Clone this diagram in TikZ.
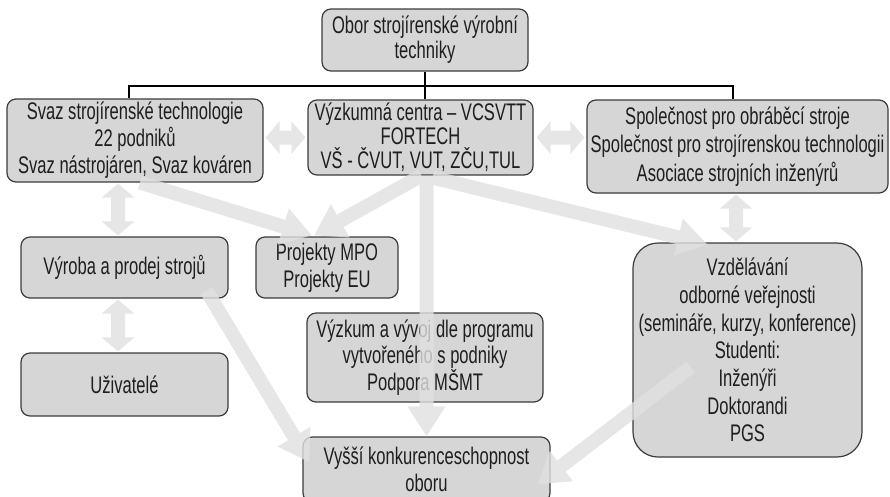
\documentclass[tikz,border=0pt]{standalone}
\usepackage{fontspec}
\setmainfont{Liberation Sans}[FakeStretch=0.69]
\usetikzlibrary{arrows.meta,calc}
\definecolor{boxfill}{RGB}{214,214,214}
\definecolor{boxline}{RGB}{60,60,60}
\definecolor{txt}{RGB}{30,30,30}
\definecolor{arr}{RGB}{224,224,224}
\begin{document}
\begin{tikzpicture}[x=1pt,y=-1pt,
  box/.style={draw=boxline, fill=boxfill, line width=1.2pt, rounded corners=9pt, align=center, text=txt, inner sep=0pt, font=\fontsize{24}{27}\selectfont},
  conn/.style={draw=black, line width=2pt},
  fat/.style={draw=arr, line width=14pt, -{Triangle[width=36pt,length=30pt]}},
  fatd/.style={draw=arr, line width=14pt, {Triangle[width=32pt,length=14pt]}-{Triangle[width=32pt,length=14pt]}},
]
\useasboundingbox (0,0) rectangle (890,496);

\node[box, minimum width=206pt, minimum height=62pt, font=\fontsize{24}{25}\selectfont] (top) at (425,40) {Obor strojírenské výrobní\\techniky};
\node[box, minimum width=256pt, minimum height=83pt] (svaz) at (135,140.5) {Svaz strojírenské technologie\\22 podniků\\Svaz nástrojáren, Svaz kováren};
\node[box, minimum width=225pt, minimum height=75pt, font=\fontsize{24}{24}\selectfont] (vyzk) at (420.5,137.5) {Výzkumná centra – VCSVTT\\FORTECH\\VŠ - ČVUT, VUT, ZČU,TUL};
\node[box, minimum width=301pt, minimum height=93pt, font=\fontsize{24}{28.5}\selectfont] (spol) at (737.5,146.5) {Společnost pro obráběcí stroje\\Společnost pro strojírenskou technologii\\Asociace strojních inženýrů};
\node[box, minimum width=207pt, minimum height=61pt] (vyroba) at (124.5,267.5) {Výroba a prodej strojů};
\node[box, minimum width=142pt, minimum height=61pt] (proj) at (327,267.5) {Projekty MPO\\Projekty EU};
\node[box, minimum width=207pt, minimum height=63pt] (uziv) at (124.5,384.5) {Uživatelé};
\node[box, minimum width=236pt, minimum height=89pt, font=\fontsize{24}{26.5}\selectfont] (vyvoj) at (425,357.5) {Výzkum a vývoj dle programu\\vytvořeného s podniky\\Podpora MŠMT};
\node[box, minimum width=247pt, minimum height=65pt] (vyssi) at (426.5,469.5) {Vyšší konkurenceschopnost\\oboru};
\node[box, rounded corners=25pt, minimum width=229pt, minimum height=214pt, font=\fontsize{24}{27.7}\selectfont] (vzdel) at (747.5,350) {Vzdělávání\\odborné veřejnosti\\(semináře, kurzy, konference)\\Studenti:\\Inženýři\\Doktorandi\\PGS};

\coordinate (bl) at (129,86);
\coordinate (br) at (733,86);
\draw[conn] (top.south) -- (top.south |- vyzk.north);
\draw[conn] (svaz.north -| bl) |- (br) -- (spol.north -| br);

\begin{scope}[transparency group, opacity=0.8]
\draw[fatd] ($(svaz.east |- vyzk.west)+(2,0)$) -- ($(vyzk.west)+(-2,0)$);
\draw[fatd] ($(vyzk.east)+(3,0)$) -- ($(spol.west |- vyzk.east)+(-2,0)$);
\draw[fatd] ($(svaz.south)+(-17,1)$) -- ($(vyroba.north)+(-6.5,-1)$);
\draw[fatd] ($(vyroba.south)+(-6.5,1)$) -- ($(uziv.north)+(-6.5,-1)$);
\draw[fatd] ($(spol.south)+(-1.5,1)$) -- ($(spol.south |- vzdel.north)+(-1.5,-1)$);
\draw[fat] ($(svaz.south)+(5,0)$) -- ($(proj.north)+(-15,-1)$);
\draw[fat] ($(vyzk.south)+(1,0)$) -- ($(proj.north)+(-13,-1)$);
\draw[fat] ($(vyzk.south)+(6,0)$) -- (vyssi.north);
\draw[fat] ($(vyzk.south)+(12,2)$) -- ($(vzdel.north)+(-40,2)$);
\draw[fat] ($(vyroba.south east)+(-22,-8)$) -- ($(vyssi.north west)+(7,26)$);
\draw[fat] ($(vzdel.center)+(-57,17)$) -- ($(vyssi.north east)+(-13,48)$);
\end{scope}
\end{tikzpicture}
\end{document}
